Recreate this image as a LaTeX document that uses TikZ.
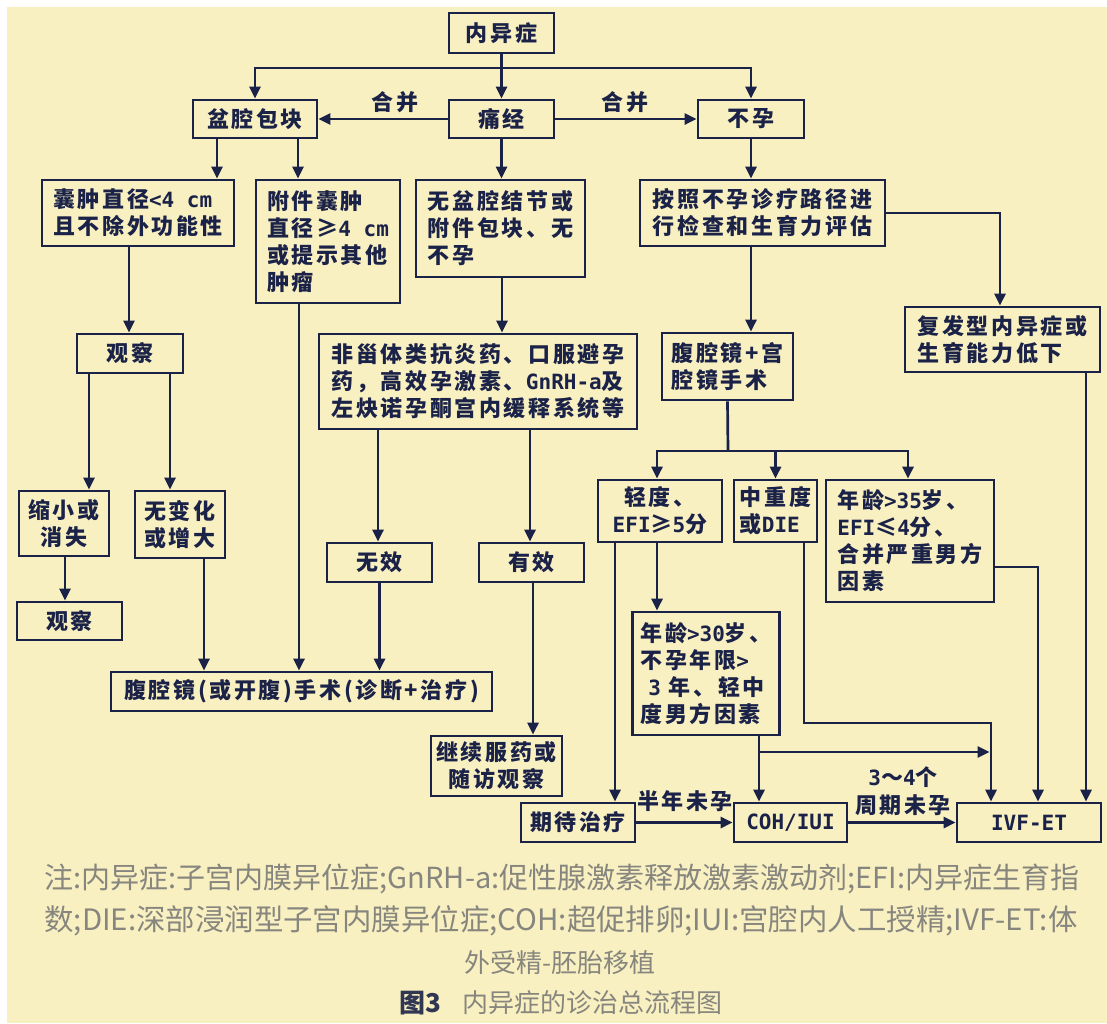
\documentclass[tikz,border=0pt]{standalone}
\usepackage{fontspec}
\setmainfont{Noto Sans CJK SC}
\newfontfamily\bxfont[LetterSpace=12]{Noto Sans CJK SC}
\newfontfamily\capfont{Noto Sans CJK SC}
\newfontfamily\ltfont{DejaVu Sans Mono}
\newcommand\lt[1]{{\ltfont\bfseries\fontsize{21}{27}\selectfont #1}}
\usetikzlibrary{arrows.meta}
\definecolor{bg}{RGB}{249,240,194}
\definecolor{ink}{RGB}{27,34,72}
\definecolor{capgray}{RGB}{135,134,126}
\newcommand\vconn[4]{%
  \coordinate (vtmp) at ([xshift=#2]#1.south);
  \draw[ar] (vtmp) -- (vtmp |- #3.#4);}
\begin{document}
\begin{tikzpicture}[x=1pt,y=-1pt,
  bx/.style={draw=ink, line width=2.7pt, text=ink,
    font=\bxfont\bfseries\fontsize{22}{27}\selectfont,
    inner xsep=8pt, inner ysep=0pt, align=left},
  ln/.style={draw=ink, line width=2.7pt},
  ar/.style={ln, -{Triangle[length=12pt,width=11pt]}},
  lbl/.style={text=ink, font=\bxfont\bfseries\fontsize{22}{28}\selectfont, inner sep=0pt, align=center},
  captxt/.style={text=capgray, font=\capfont\fontsize{26}{30}\selectfont, inner sep=0pt}
]
\useasboundingbox (0,0) rectangle (1107,1023);
\fill[white] (0,0) rectangle (1107,1023);
\fill[bg] (7,7) rectangle (1107,1023);

% nodes
\node[bx, minimum width=105pt, minimum height=40pt] (n0) at (501.5,33) {内异症};
\node[bx, minimum width=124pt, minimum height=38pt] (pelvic) at (255,119) {盆腔包块};
\node[bx, minimum width=105pt, minimum height=38pt] (dys) at (501.5,119) {痛经};
\node[bx, minimum width=106pt, minimum height=38pt] (infert) at (751,119) {不孕};

\node[bx, minimum width=192pt, minimum height=66pt] (cyst1) at (138,213) {囊肿直径\lt{<4 cm}\\且不除外功能性};
\node[bx, minimum width=144pt, minimum height=123pt] (cyst2) at (328,241.5) {附件囊肿\\直径≥\lt{4 cm}\\或提示其他\\肿瘤};
\node[bx, minimum width=169pt, minimum height=97pt] (nonod) at (500.5,228.5) {无盆腔结节或\\附件包块、无\\不孕};
\node[bx, minimum width=245pt, minimum height=66pt] (eval) at (762.5,213) {按照不孕诊疗路径进\\行检查和生育力评估};

\node[bx, minimum width=106pt, minimum height=39pt] (obs1) at (130,353.5) {观察};
\node[bx, align=center, inner xsep=4pt, minimum width=90pt, minimum height=65pt] (shrink) at (64,523.5) {缩小或\\消失};
\node[bx, align=center, inner xsep=4pt, minimum width=90pt, minimum height=67pt] (nochg) at (180,524.5) {无变化\\或增大};
\node[bx, minimum width=105pt, minimum height=38pt] (obs2) at (69.5,621) {观察};
\node[bx, minimum width=381pt, minimum height=39pt] (lap) at (301.5,691.5) {腹腔镜(或开腹)手术(诊断+治疗)};

\node[bx, inner xsep=6pt, minimum width=318pt, minimum height=95pt] (drug) at (478,381.5) {非甾体类抗炎药、口服避孕\\药，高效孕激素、\lt{GnRH-a}及\\左炔诺孕酮宫内缓释系统等};
\node[bx, minimum width=105pt, minimum height=39pt] (ineff) at (379.5,562.5) {无效};
\node[bx, minimum width=105pt, minimum height=39pt] (eff) at (531.5,562.5) {有效};
\node[bx, align=center, inner xsep=3pt, minimum width=131pt, minimum height=60pt] (cont) at (496.5,766) {继续服药或\\随访观察};

\node[bx, minimum width=195pt, minimum height=65pt] (recur) at (1002.5,339.5) {复发型内异症或\\生育能力低下};
\node[bx, minimum width=131pt, minimum height=67pt] (hyst) at (727.5,366.5) {腹腔镜+宫\\腔镜手术};
\node[bx, align=center, minimum width=124pt, minimum height=62pt] (mild) at (660,511) {轻度、\\\lt{EFI}≥\lt{5}分};
\node[bx, inner xsep=3pt, minimum width=83pt, minimum height=62pt] (mod) at (775.5,511) {中重度\\或\lt{DIE}};
\node[bx, minimum width=168pt, minimum height=122pt] (old) at (910,541) {年龄\lt{>35}岁、\\\lt{EFI}≤\lt{4}分、\\合并严重男方\\因素};
\node[bx, minimum width=142pt, minimum height=123pt] (age30) at (706,673.5) {年龄\lt{>30}岁、\\不孕年限\lt{>}\\\hspace*{8pt}\lt{3} 年、轻中\\度男方因素};
\node[bx, minimum width=114pt, minimum height=39pt] (expect) at (578,822.5) {期待治疗};
\node[bx, minimum width=113pt, minimum height=39pt] (coh) at (790.5,822.5) {\lt{COH/IUI}};
\node[bx, minimum width=144pt, minimum height=39pt] (ivf) at (1029,822.5) {\lt{IVF-ET}};

% labels
\node[lbl] (m1) at (395,102) {合并};
\node[lbl] (m2) at (625,102) {合并};
\node[lbl] (m3) at (685,801) {半年未孕};
\node[lbl] (m4) at (903,791) {\lt{3}～\lt{4}个\\周期未孕};

% connectors
\coordinate (j0) at (501.5,68);
\draw[ln] (n0.south) -- (j0);
\draw[ar] (j0) -- (dys.north);
\draw[ar] (j0) -| (pelvic.north);
\draw[ar] (j0) -| (infert.north);
\draw[ar] (dys.west) -- (pelvic.east);
\draw[ar] (dys.east) -- (infert.west);

\vconn{pelvic}{-38pt}{cyst1}{north}
\vconn{pelvic}{43pt}{cyst2}{north}
\vconn{dys}{0pt}{nonod}{north}
\vconn{infert}{0pt}{eval}{north}
\vconn{cyst1}{-9pt}{obs1}{north}
\vconn{obs1}{-41pt}{shrink}{north}
\vconn{obs1}{40pt}{nochg}{north}
\vconn{shrink}{1pt}{obs2}{north}
\vconn{nochg}{24pt}{lap}{north}
\vconn{cyst2}{-29pt}{lap}{north}
\vconn{ineff}{0pt}{lap}{north}
\vconn{nonod}{1.5pt}{drug}{north}
\vconn{drug}{-100pt}{ineff}{north}
\vconn{drug}{52pt}{eff}{north}
\vconn{eff}{1.5pt}{cont}{north}
\vconn{eval}{-11.5pt}{hyst}{north}

\coordinate (j1) at (728,451);
\draw[ln] (hyst.south) -- (j1);
\draw[ar] (j1) -| ([xshift=-3pt]mild.north);
\draw[ar] (j1) -| (mod.north);
\draw[ar] (j1) -| ([xshift=-2pt]old.north);

\vconn{mild}{-3pt}{age30}{north}
\vconn{mild}{-45pt}{expect}{north}
\vconn{age30}{53pt}{coh}{north}

\draw[ar] (eval.east) -| ([xshift=-2.5pt]recur.north);
\vconn{recur}{83.5pt}{ivf}{north}
\draw[ar] ([yshift=-26pt]old.east) -| ([xshift=9pt]ivf.north);
\coordinate (mdA) at ([xshift=28.5pt]mod.south);
\coordinate (mdB) at (991,723);
\draw[ar] (mdA) |- (mdB) -- ([xshift=-38pt]ivf.north);
\coordinate (aA) at (759,752);
\coordinate (aB) at (989.5,752);
\draw[ar] (aA) -- (aB);

\draw[ar] (expect.east) -- (coh.west);
\draw[ar] (coh.east) -- (ivf.west);

% caption
\node[captxt] (c1) at (562,879) {\resizebox{1035pt}{!}{注:内异症:子宫内膜异位症;GnRH-a:促性腺激素释放激素激动剂;EFI:内异症生育指}};
\node[captxt] (c2) at (561,921) {\resizebox{1033pt}{!}{数;DIE:深部浸润型子宫内膜异位症;COH:超促排卵;IUI:宫腔内人工授精;IVF-ET:体}};
\node[captxt] (c3) at (560,963) {外受精-胚胎移植};
\node[captxt] (c4) at (561,1003) {{\color{ink!80!capgray}\bfseries 图3}\hspace{22pt}内异症的诊治总流程图};
\end{tikzpicture}
\end{document}
